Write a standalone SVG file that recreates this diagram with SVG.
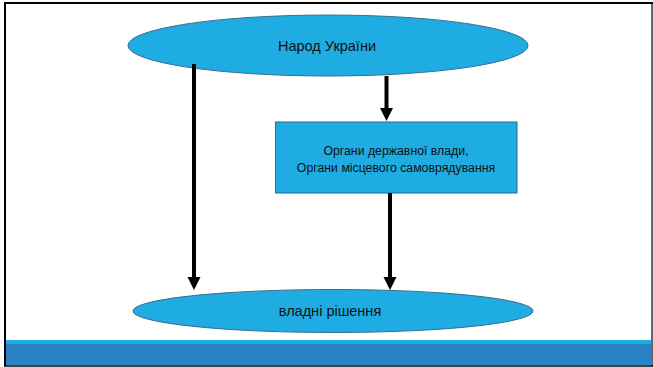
<svg xmlns="http://www.w3.org/2000/svg" width="653" height="367" viewBox="0 0 653 367">
<style>
.node{fill:#1EACE2;stroke:#3B6E8A;stroke-width:1}
.lbl{font-family:"Liberation Sans",Arial,sans-serif;fill:#111;text-anchor:middle}
.conn{stroke:#000;stroke-width:4;fill:none}
.head{fill:#000}
</style>
<rect x="0" y="0" width="653" height="367" fill="#fff"/>
<rect x="5" y="340" width="647" height="4" fill="#1DADE4"/>
<rect x="5" y="344" width="647" height="21" fill="#2A82C6"/>
<path d="M5,366 V3 H652 V366" fill="none" stroke="#000" stroke-width="2"/>
<line x1="652" y1="4" x2="652" y2="366" stroke="#888" stroke-width="1.5"/>
<line x1="4" y1="366" x2="653" y2="366" stroke="#000" stroke-width="1.5"/>
<g id="node-narod">
<ellipse class="node" cx="328" cy="45.5" rx="200" ry="30.5"/>
<text class="lbl" x="327" y="50.5" font-size="14.5">Народ України</text>
</g>
<g id="node-organy">
<rect class="node" x="275.5" y="122" width="241.5" height="71" style="stroke:#1F6F98"/>
<text class="lbl" x="396" y="155" font-size="12.3">Органи державної влади,</text>
<text class="lbl" x="396" y="171.5" font-size="12.3">Органи місцевого самоврядування</text>
</g>
<g id="node-rishennia">
<ellipse class="node" cx="333" cy="311" rx="200" ry="21.5"/>
<text class="lbl" x="330" y="316" font-size="14.5">владні рішення</text>
</g>
<g id="connectors">
<line class="conn" x1="194" y1="64" x2="194" y2="277"/>
<path class="head" d="M187.5,277 L200.5,277 L194,290 Z"/>
<line class="conn" x1="386.5" y1="76" x2="386.5" y2="108"/>
<path class="head" d="M380,108 L393,108 L386.5,121 Z"/>
<line class="conn" x1="390" y1="193" x2="390" y2="277"/>
<path class="head" d="M383.5,277 L396.5,277 L390,290 Z"/>
</g>
</svg>
